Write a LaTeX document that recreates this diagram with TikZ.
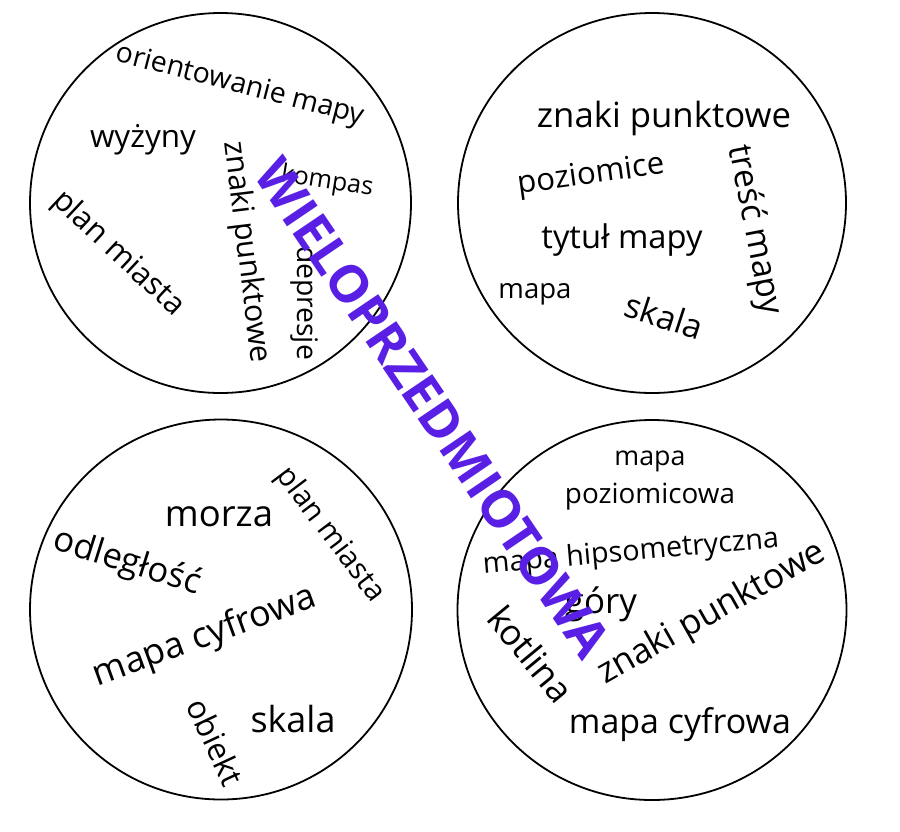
\documentclass[tikz,border=0pt]{standalone}
\usepackage{fontspec}
\setmainfont{Open Sans}
\usetikzlibrary{shapes.geometric}
\definecolor{wpurple}{HTML}{5A1FE5}
\newcommand\wcbox[2]{\resizebox{#1pt}{!}{#2}}
\begin{document}
\begin{tikzpicture}[x=1pt,y=-1pt,
  ring/.style={draw=black, line width=1.8pt, ellipse, inner sep=0pt},
  word/.style={inner sep=0pt, outer sep=0pt, text=black},
  bigtitle/.style={inner sep=0pt, outer sep=0pt, text=wpurple, font=\bfseries}]
\useasboundingbox (0,0) rectangle (900,831);
\fill[white] (0,0) rectangle (900,831);
% circles
\node[ring, minimum width=381pt, minimum height=380pt] (c1) at (220.5,203) {};
\node[ring, minimum width=388pt, minimum height=380pt] (c2) at (652,203) {};
\node[ring, minimum width=382pt, minimum height=380pt] (c3) at (221,609.5) {};
\node[ring, minimum width=389pt, minimum height=380pt] (c4) at (652,610) {};
% circle 1
\node[word, rotate=-14.5] (orient) at (240,86) {\wcbox{255}{orientowanie mapy}};
\node[word] (wyzyny) at (143,140) {\wcbox{106}{wyżyny}};
\node[word, rotate=-83] (zpA) at (246,252) {\wcbox{223}{znaki punktowe}};
\node[word, rotate=-9] (kompas) at (327,182) {\wcbox{93}{kompas}};
\node[word, rotate=-43] (planA) at (118,254) {\wcbox{168}{plan miasta}};
\node[word, rotate=-90] (depresje) at (305,303) {\wcbox{114}{depresje}};
% circle 2
\node[word] (zpB) at (664,118) {\wcbox{254}{znaki punktowe}};
\node[word, rotate=7.8] (poziomice) at (591,176) {\wcbox{148}{poziomice}};
\node[word] (tytul) at (622,240) {\wcbox{161}{tytuł mapy}};
\node[word] (mapaB) at (535,294) {\wcbox{73}{mapa}};
\node[word, rotate=-18] (skalaB) at (664,316) {\wcbox{80}{skala}};
\node[word, rotate=-79] (tresc) at (754,230) {\wcbox{172}{treść mapy}};
% circle 3
\node[word] (morza) at (219,517) {\wcbox{108}{morza}};
\node[word, rotate=-17.5] (odleglosc) at (127,563) {\wcbox{152}{odległość}};
\node[word, rotate=20] (cyfrowaC) at (205,637) {\wcbox{235}{mapa cyfrowa}};
\node[word, rotate=-53] (planC) at (330,535) {\wcbox{160}{plan miasta}};
\node[word, rotate=-65] (obiekt) at (216,742) {\wcbox{92}{obiekt}};
\node[word] (skalaC) at (293,719) {\wcbox{85}{skala}};
% circle 4
\node[word] (mapaD) at (650,461) {\wcbox{71}{mapa}};
\node[word] (poziomicowa) at (650,497) {\wcbox{170}{poziomicowa}};
\node[word, rotate=5] (hipso) at (631,553) {\wcbox{297}{mapa hipsometryczna}};
\node[word] (gory) at (601,604) {\wcbox{72}{góry}};
\node[word, rotate=29.5] (zpD) at (712,614) {\wcbox{256}{znaki punktowe}};
\node[word, rotate=-50.5] (kotlina) at (531,654) {\wcbox{112}{kotlina}};
\node[word] (cyfrowaD) at (680,725) {\wcbox{222}{mapa cyfrowa}};
% title
\node[bigtitle, rotate=-55.9] (title) at (433,408) {\wcbox{588}{WIELOPRZEDMIOTOWA}};
\end{tikzpicture}
\end{document}
